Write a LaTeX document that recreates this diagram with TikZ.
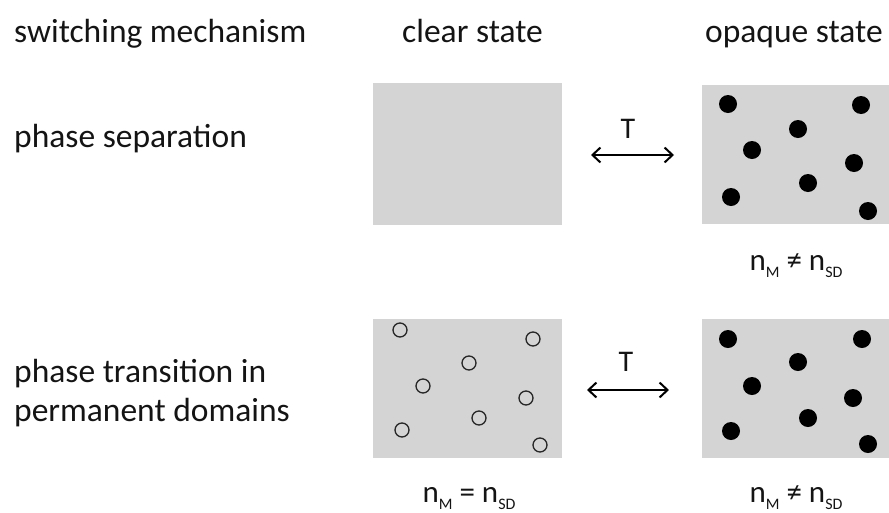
\documentclass[tikz,border=0pt]{standalone}
\usepackage{fontspec}
\setmainfont{Carlito}
\usetikzlibrary{arrows.meta}
\definecolor{boxgray}{RGB}{212,212,212}
\definecolor{inkc}{RGB}{20,20,20}
\newcommand{\subM}[1]{\raisebox{-7pt}{\fontsize{16}{16}\selectfont #1}}
\begin{document}
\begin{tikzpicture}[x=1pt,y=-1pt,
  lbl/.style={font=\fontsize{33.5}{40}\selectfont, text=inkc, inner sep=0pt, anchor=base west},
  eqlbl/.style={font=\fontsize{31}{36}\selectfont, text=inkc, inner sep=0pt, anchor=base},
  tlbl/.style={font=\fontsize{30}{36}\selectfont, text=inkc, inner sep=0pt, anchor=base},
  panel/.style={fill=boxgray, draw=none, inner sep=0pt, minimum width=189pt, minimum height=140pt},
  dot/.style={circle, fill=black, draw=none, minimum size=18pt, inner sep=0pt},
  ring/.style={circle, draw=black!85, fill=none, line width=1.3pt, minimum size=14pt, inner sep=0pt},
  swaparrow/.style={{Straight Barb[length=8pt,width=15pt,line width=2pt]}-{Straight Barb[length=8pt,width=15pt,line width=2pt]}, line width=2.2pt, black}
]
\useasboundingbox (0,0) rectangle (889,512);
% headers
\node[lbl] (h1) at (14,42) {switching mechanism};
\node[lbl] (h2) at (402,42) {clear state};
\node[lbl] (h3) at (705,42) {opaque state};
% row labels
\node[lbl] (r1) at (14,147) {phase separation};
\node[lbl] (r2a) at (14,382) {phase transition in};
\node[lbl] (r2b) at (14,421) {permanent domains};
% panels
\node[panel, minimum height=142pt] (pA) at (467.5,154) {};
\node[panel, minimum width=187pt, minimum height=139pt] (pB) at (795.5,154.5) {};
\node[panel, minimum height=139pt] (pC) at (467.5,388.5) {};
\node[panel, minimum width=187pt, minimum height=139pt] (pD) at (795.5,388.5) {};
% dots top right
\node[dot] (b1) at (728,104) {};
\node[dot] (b2) at (861,105) {};
\node[dot] (b3) at (798,129) {};
\node[dot] (b4) at (752,150) {};
\node[dot] (b5) at (854,163) {};
\node[dot] (b6) at (808,183) {};
\node[dot] (b7) at (731,197) {};
\node[dot] (b8) at (868,211) {};
% dots bottom right
\node[dot] (d1) at (728,339) {};
\node[dot] (d2) at (862,339) {};
\node[dot] (d3) at (798,362) {};
\node[dot] (d4) at (752,386) {};
\node[dot] (d5) at (853,398) {};
\node[dot] (d6) at (808,418) {};
\node[dot] (d7) at (731,431) {};
\node[dot] (d8) at (868,444) {};
% rings bottom left
\node[ring] (c1) at (400,330) {};
\node[ring] (c2) at (533,339) {};
\node[ring] (c3) at (469,363) {};
\node[ring] (c4) at (423,386) {};
\node[ring] (c5) at (526,398) {};
\node[ring] (c6) at (479,418) {};
\node[ring] (c7) at (402,430) {};
\node[ring] (c8) at (540,445) {};
% arrows
\coordinate (a1l) at (591,155);
\coordinate (a1r) at (674,155);
\draw[swaparrow] (a1l) -- (a1r);
\node[tlbl] (t1) at (628,138) {T};
\coordinate (a2l) at (587,390);
\coordinate (a2r) at (669,390);
\draw[swaparrow] (a2l) -- (a2r);
\node[tlbl] (t2) at (626,371) {T};
% relations
\node[eqlbl] (e1) at (796,270) {n\subM{M} ≠ n\subM{SD}};
\node[eqlbl] (e2) at (469,502) {n\subM{M} = n\subM{SD}};
\node[eqlbl] (e3) at (796,502) {n\subM{M} ≠ n\subM{SD}};
\end{tikzpicture}
\end{document}
